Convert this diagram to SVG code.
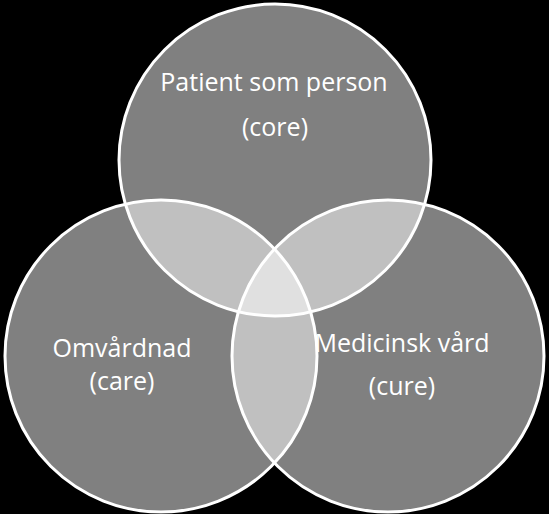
<svg xmlns="http://www.w3.org/2000/svg" width="549" height="514" viewBox="0 0 549 514">
<style>
.base{fill:#808080}
.pair{fill:#c0c0c0}
.triple{fill:#e0e0e0}
.ring{fill:none;stroke:#ffffff;stroke-width:3}
.lbl{font-family:"Open Sans","Liberation Sans",sans-serif;font-size:25px;fill:#ffffff;text-anchor:middle}
</style>
<defs>
<clipPath id="cT"><circle cx="275" cy="160" r="156"/></clipPath>
<clipPath id="cL"><circle cx="161" cy="356" r="156"/></clipPath>
<clipPath id="cR"><circle cx="388" cy="356" r="156"/></clipPath>
</defs>
<rect width="549" height="514" fill="#000000"/>
<g id="fills">
<circle class="base" cx="275" cy="160" r="156"/>
<circle class="base" cx="161" cy="356" r="156"/>
<circle class="base" cx="388" cy="356" r="156"/>
<g clip-path="url(#cT)">
<circle class="pair" cx="161" cy="356" r="156"/>
<circle class="pair" cx="388" cy="356" r="156"/>
</g>
<g clip-path="url(#cL)">
<circle class="pair" cx="388" cy="356" r="156"/>
</g>
<g clip-path="url(#cT)"><g clip-path="url(#cL)">
<circle class="triple" cx="388" cy="356" r="156"/>
</g></g>
</g>
<g id="node-core">
<circle class="ring" cx="275" cy="160" r="156"/>
<text class="lbl" x="274" y="91">Patient som person</text>
<text class="lbl" x="275" y="136">(core)</text>
</g>
<g id="node-care">
<circle class="ring" cx="161" cy="356" r="156"/>
<text class="lbl" x="122" y="357">Omvårdnad</text>
<text class="lbl" x="122" y="390">(care)</text>
</g>
<g id="node-cure">
<circle class="ring" cx="388" cy="356" r="156"/>
<text class="lbl" x="402" y="352">Medicinsk vård</text>
<text class="lbl" x="402" y="395">(cure)</text>
</g>
<g id="connectors"/>
</svg>
